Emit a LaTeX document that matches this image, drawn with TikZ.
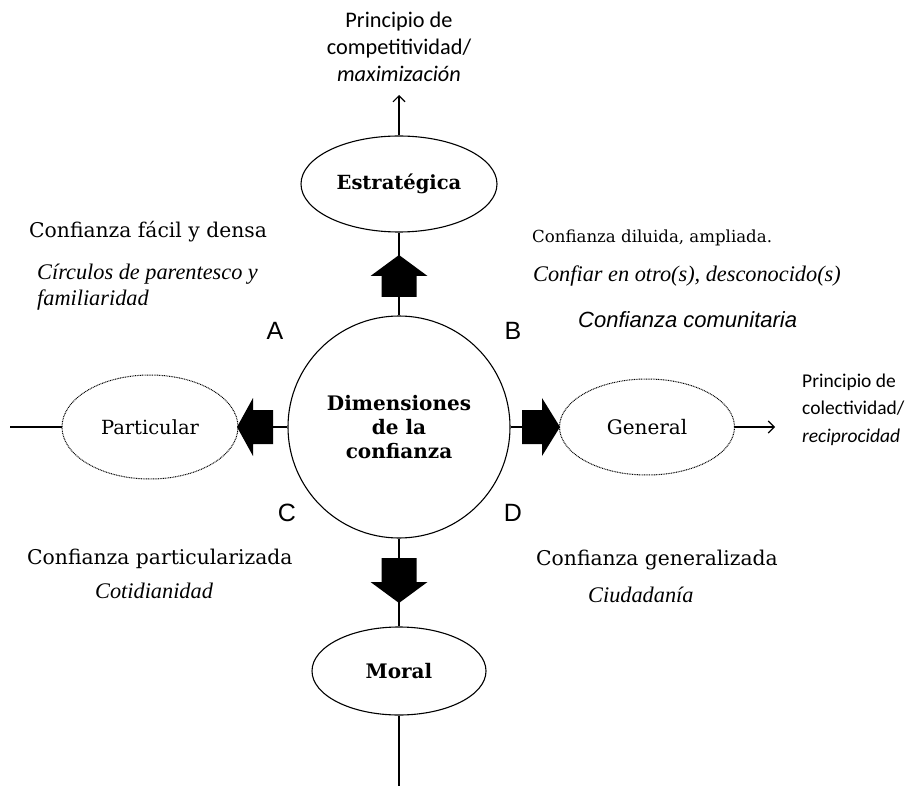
\documentclass[tikz,border=0pt]{standalone}
\usepackage{fontspec}
\setmainfont{DejaVu Serif}
\newfontfamily\ftimes{Liberation Serif}
\newfontfamily\farial{Liberation Sans}
\newfontfamily\fcalibri{Carlito}
\usetikzlibrary{arrows.meta,positioning,shapes.geometric}
\tikzset{
  linea/.style={line width=1.1pt},
  flecha/.style={linea,-{Straight Barb[length=6pt,width=12pt]}},
  elipse/.style={draw,ellipse,linea,inner sep=0pt,align=center},
  elipsep/.style={elipse,line width=1pt,dash pattern=on 0.9pt off 0.8pt},
  gorda/.style={fill=black},
  tit/.style={font=\fontsize{20.3}{24}\selectfont,inner sep=0pt},
  cur/.style={font=\ftimes\itshape\fontsize{22.3}{27}\selectfont,inner sep=0pt,align=left},
  letra/.style={font=\farial\fontsize{25}{30}\selectfont,inner sep=0pt},
  princ/.style={font=\fcalibri\fontsize{22.3}{27}\selectfont,inner sep=0pt},
}
\begin{document}
\begin{tikzpicture}[x=1pt,y=-1pt]
\useasboundingbox (0,0) rectangle (921,786);

% nodos principales
\node[draw,circle,linea,minimum size=222pt,inner sep=0pt,align=center,
      font=\bfseries\fontsize{20}{24}\selectfont] (dim) at (399,427)
  {Dimensiones\\de la\\confianza};
\node[elipse,minimum width=196pt,minimum height=96pt,
      font=\bfseries\fontsize{19.5}{22}\selectfont] (est) at (399,184) {Estratégica};
\node[elipse,minimum width=174pt,minimum height=88pt,
      font=\bfseries\fontsize{20}{22}\selectfont] (mor) at (399,671) {Moral};
\node[elipsep,minimum width=176pt,minimum height=104pt,
      font=\fontsize{19.5}{22}\selectfont] (par) at (150,427) {Particular};
\node[elipsep,minimum width=175pt,minimum height=96pt,
      font=\fontsize{20}{22}\selectfont] (gen) at (647,427) {General};

\coordinate (izq) at (10,427);
\coordinate (abj) at (399,786);

% principios
\node[princ,align=center,anchor=base] (pcomp) at (399,82)
  {Principio de\\competitividad/\\\textit{maximización}};
\node[princ,font=\fcalibri\fontsize{19.5}{27.5}\selectfont,align=left,anchor=base west] (pcol) at (802,442)
  {Principio de\\colectividad/\\\textit{reciprocidad}};

% letras de cuadrante
\node[letra] (la) at (275,331) {A};
\node[letra] (lb) at (513,331) {B};
\node[letra] (lc) at (287,513) {C};
\node[letra] (ld) at (513,513) {D};

% textos de cuadrante
\node[tit,anchor=base west] (ta) at (29,238) {Confianza fácil y densa};
\node[cur,anchor=base west] (sa) at (37,306) {Círculos de parentesco y\\[-0.5pt]familiaridad};
\node[tit,font=\fontsize{16.6}{20}\selectfont,anchor=base west] (tb) at (532,243) {Confianza diluida, ampliada.};
\node[cur,anchor=base west] (sb) at (533,282) {Confiar en otro(s), desconocido(s)};
\node[inner sep=0pt,font=\farial\itshape\fontsize{22}{26}\selectfont,anchor=base west] (cb) at (578,327) {Confianza comunitaria};
\node[tit,anchor=base west] (tc) at (27,564) {Confianza particularizada};
\node[cur,anchor=base west] (sc) at (95,598) {Cotidianidad};
\node[tit,anchor=base west] (td) at (536,565) {Confianza generalizada};
\node[cur,anchor=base west] (sd) at (588,602) {Ciudadanía};

% conectores
\draw[linea] (est.south) -- (dim.north);
\draw[linea] (dim.south) -- (mor.north);
\draw[linea] (dim.west) -- (par.east);
\draw[linea] (dim.east) -- (gen.west);
\draw[linea] (izq) -- (par.west);
\draw[linea] (mor.south) -- (abj);
\draw[flecha] (est.north) -- (pcomp.south |- 0,95);
\draw[flecha] (gen.east) -- ++(40,0);

% flechas gruesas
\fill[gorda] (381.5,297)--(381.5,276)--(370.5,276)--(399,255)--(427.5,276)--(416.5,276)--(416.5,297)--cycle;
\fill[gorda] (381.5,558)--(381.5,582)--(370.5,582)--(399,603)--(427.5,582)--(416.5,582)--(416.5,558)--cycle;
\fill[gorda] (273,410)--(253,410)--(253,398)--(237,427)--(253,456)--(253,444)--(273,444)--cycle;
\fill[gorda] (522,410)--(542,410)--(542,398)--(560,427)--(542,456)--(542,444)--(522,444)--cycle;

\end{tikzpicture}
\end{document}
